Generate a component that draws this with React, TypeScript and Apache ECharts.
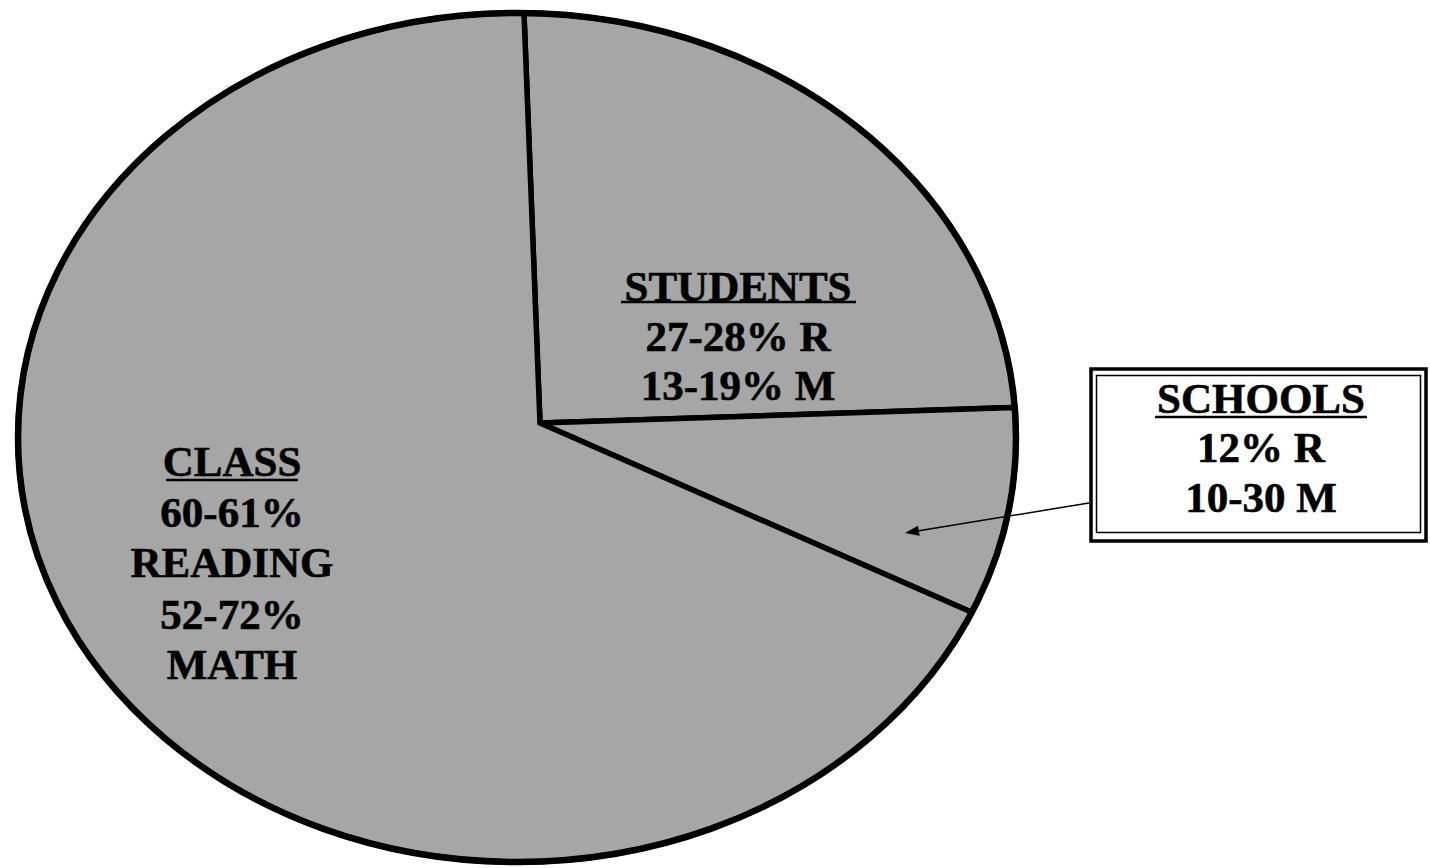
import React, { useEffect, useRef } from "react";
import * as echarts from "echarts";

// ---- data ----
const categories = ["STUDENTS", "SCHOOLS", "CLASS"];
const sliceShares = [25.1, 7.1, 67.8]; // visual share of the drawn pie
const studentsLines = ["STUDENTS", "27-28% R", "13-19% M"];
const classLines = ["CLASS", "60-61%", "READING", "52-72%", "MATH"];
const schoolsLines = ["SCHOOLS", "12% R", "10-30 M"];

// ---- layout ----
const ELL_CX = 517;
const ELL_CY = 437.5;
const ELL_RX = 499;
const ELL_RY = 424.5;
const PIE_X = 540;
const PIE_Y = 423;
const START_ANGLE = (-92.24 * Math.PI) / 180;
const FONT = '"Liberation Serif", "Times New Roman", serif';

function rayToEllipse(ang: number): number {
  const du = Math.cos(ang) / ELL_RX;
  const dv = Math.sin(ang) / ELL_RY;
  const u = (PIE_X - ELL_CX) / ELL_RX;
  const v = (PIE_Y - ELL_CY) / ELL_RY;
  const a = du * du + dv * dv;
  const b = 2 * (u * du + v * dv);
  const c = u * u + v * v - 1;
  return (-b + Math.sqrt(b * b - 4 * a * c)) / (2 * a);
}

function textEl(text: string, x: number, y: number) {
  return {
    type: "text",
    z: 10,
    x,
    y,
    style: {
      text,
      fill: "#000",
      fontFamily: FONT,
      fontWeight: "bold",
      fontSize: 43,
      textAlign: "center",
      textVerticalAlign: "middle",
      verticalAlign: "middle",
      stroke: "#000",
      lineWidth: 0.6,
    },
  };
}

function underline(x1: number, x2: number, y: number) {
  return {
    type: "line",
    z: 10,
    shape: { x1, y1: y, x2, y2: y },
    style: { stroke: "#000", lineWidth: 2.5 },
  };
}

export default function App() {
  const ref = useRef<HTMLDivElement>(null);

  useEffect(() => {
    if (!ref.current) return;
    const chart = echarts.init(ref.current, undefined, { renderer: "svg" });
    const total = sliceShares.reduce((a, b) => a + b, 0);

    // arrow geometry
    const sx = 1089, sy = 503, tx = 905, ty = 533;
    const len = Math.hypot(tx - sx, ty - sy);
    const ux = (tx - sx) / len, uy = (ty - sy) / len;
    const hl = 14, hw = 5;
    const bx = tx - hl * ux, by = ty - hl * uy;
    const nx = -uy, ny = ux;

    const graphics: any[] = [];
    // thicker outline of the pie
    graphics.push({
      type: "ellipse",
      z: 8,
      shape: { cx: ELL_CX, cy: ELL_CY, rx: ELL_RX, ry: ELL_RY },
      style: { fill: "none", stroke: "#000", lineWidth: 6.5 },
    });
    const studentsY = [286, 336, 385];
    studentsLines.forEach((t, i) => graphics.push(textEl(t, 738, studentsY[i])));
    graphics.push(underline(621, 856, 302));
    const classY = [461, 512, 562, 614, 664];
    classLines.forEach((t, i) => graphics.push(textEl(t, 232, classY[i])));
    graphics.push(underline(166, 298, 480));
    const schoolsY = [398, 447, 497];
    schoolsLines.forEach((t, i) => graphics.push(textEl(t, 1261, schoolsY[i])));
    graphics.push(underline(1155, 1367, 417));

    // double-bordered box
    graphics.push({
      type: "rect",
      z: 9,
      shape: { x: 1091, y: 369, width: 335, height: 172 },
      style: { fill: "#fff", stroke: "#000", lineWidth: 3.5 },
    });
    graphics.push({
      type: "rect",
      z: 9,
      shape: { x: 1096.5, y: 375.5, width: 324, height: 157 },
      style: { fill: "none", stroke: "#000", lineWidth: 1.5 },
    });
    // arrow
    graphics.push({
      type: "line",
      z: 10,
      shape: { x1: sx, y1: sy, x2: bx, y2: by },
      style: { stroke: "#000", lineWidth: 1.5 },
    });
    graphics.push({
      type: "polygon",
      z: 10,
      shape: {
        points: [
          [tx, ty],
          [bx + hw * nx, by + hw * ny],
          [bx - hw * nx, by - hw * ny],
        ],
      },
      style: { fill: "#000" },
    });

    chart.setOption({
      animation: false,
      backgroundColor: "#ffffff",
      series: [
        {
          type: "custom",
          coordinateSystem: "none",
          data: sliceShares.map((v, i) => ({ name: categories[i], value: v })),
          renderItem: (params: any, api: any) => {
            const i = params.dataIndex;
            let before = 0;
            for (let k = 0; k < i; k++) before += sliceShares[k];
            const v = api.value(0) as number;
            const a0 = START_ANGLE + (before / total) * Math.PI * 2;
            const a1 = a0 + (v / total) * Math.PI * 2;
            const steps = Math.max(8, Math.ceil((a1 - a0) / (Math.PI / 360)));
            const pts: number[][] = [[PIE_X, PIE_Y]];
            for (let s = 0; s <= steps; s++) {
              const ang = a0 + ((a1 - a0) * s) / steps;
              const t = rayToEllipse(ang);
              pts.push([PIE_X + t * Math.cos(ang), PIE_Y + t * Math.sin(ang)]);
            }
            return {
              type: "polygon",
              shape: { points: pts },
              style: {
                fill: "#a6a6a6",
                stroke: "#000",
                lineWidth: 5.5,
                lineJoin: "miter",
              },
            };
          },
        },
      ],
      graphic: graphics,
    });

    return () => chart.dispose();
  }, []);

  return (
    <div
      ref={ref}
      style={{ position: "absolute", left: 0, top: 0, width: 1430, height: 868 }}
    />
  );
}
